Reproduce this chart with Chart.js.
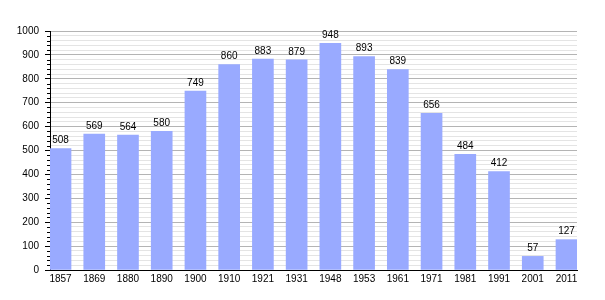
<!DOCTYPE html>
<html>
<head>
<meta charset="utf-8">
<script src="https://cdn.jsdelivr.net/npm/chart.js@4/dist/chart.umd.min.js"></script>
<style>
  html, body { margin: 0; padding: 0; background: #fff; }
  #wrap { width: 605px; height: 300px; position: relative; }
</style>
</head>
<body>
<div id="wrap"><canvas id="chart"></canvas></div>
<script>
/* ---------- data ---------- */
const years = ['1857', '1869', '1880', '1890', '1900', '1910', '1921', '1931',
               '1948', '1953', '1961', '1971', '1981', '1991', '2001', '2011'];
const population = [508, 569, 564, 580, 749, 860, 883, 879,
                    948, 893, 839, 656, 484, 412, 57, 127];
const yTicks = [0, 100, 200, 300, 400, 500, 600, 700, 800, 900, 1000];

const FONT = "'Liberation Sans', Arial, sans-serif";

// value labels above every bar
const valueLabels = {
  id: 'valueLabels',
  afterDatasetsDraw(chart) {
    const ctx = chart.ctx;
    const meta = chart.getDatasetMeta(0);
    ctx.save();
    ctx.font = '10px ' + FONT;
    ctx.fillStyle = '#000';
    ctx.textAlign = 'center';
    ctx.textBaseline = 'bottom';
    meta.data.forEach((bar, i) => {
      ctx.fillText(String(population[i]), bar.x, bar.y - 3);
    });
    ctx.restore();
  }
};

// short minor tick marks every 20 on the y axis
const minorTicks = {
  id: 'minorTicks',
  afterDraw(chart) {
    const y = chart.scales.y;
    const ctx = chart.ctx;
    ctx.save();
    ctx.strokeStyle = '#000';
    ctx.lineWidth = 1;
    for (let v = 0; v <= 1000; v += 20) {
      if (v % 100 === 0) continue;
      const py = Math.round(y.getPixelForValue(v)) + 0.5;
      ctx.beginPath();
      ctx.moveTo(y.right - 3, py);
      ctx.lineTo(y.right, py);
      ctx.stroke();
    }
    ctx.restore();
  }
};

new Chart(document.getElementById('chart'), {
  type: 'bar',
  data: {
    datasets: [{
      data: population.map((v, i) => ({ x: i, y: v })),
      backgroundColor: '#99aaff',
      borderWidth: 0,
      barThickness: 21
    }]
  },
  options: {
    responsive: true,
    maintainAspectRatio: false,
    animation: false,
    layout: { padding: { top: 31, right: 28, left: 0, bottom: 0 } },
    plugins: { legend: { display: false }, tooltip: { enabled: false } },
    scales: {
      x: {
        type: 'linear',
        min: -0.312,
        max: years.length - 1 + 0.312,
        offset: false,
        afterBuildTicks: (scale) => { scale.ticks = years.map((_, i) => ({ value: i })); },
        afterFit: (scale) => { scale.height = 30; },
        grid: { display: false, drawTicks: false, tickLength: 0 },
        border: { display: true, color: '#000', width: 1 },
        ticks: {
          autoSkip: false,
          maxRotation: 0,
          padding: 3,
          color: '#000',
          font: { family: FONT, size: 10 },
          callback: (v) => years[v]
        }
      },
      y: {
        min: 0,
        max: 1000,
        afterBuildTicks: (scale) => {
          const t = [];
          for (let v = 0; v <= 1000; v += 20) t.push({ value: v });
          scale.ticks = t;
        },
        afterFit: (scale) => { scale.width = 50; },
        border: { display: true, color: '#000', width: 1 },
        grid: {
          color: (c) => (c.tick && yTicks.includes(c.tick.value)) ? '#b4b4b4' : '#e4e4e4',
          tickColor: (c) => (c.tick && yTicks.includes(c.tick.value)) ? '#000' : 'rgba(0,0,0,0)',
          tickLength: 5
        },
        ticks: {
          autoSkip: false,
          padding: 6,
          color: '#000',
          font: { family: FONT, size: 10 },
          callback: (v) => yTicks.includes(v) ? String(v) : ''
        }
      }
    }
  },
  plugins: [valueLabels, minorTicks]
});
</script>
</body>
</html>
